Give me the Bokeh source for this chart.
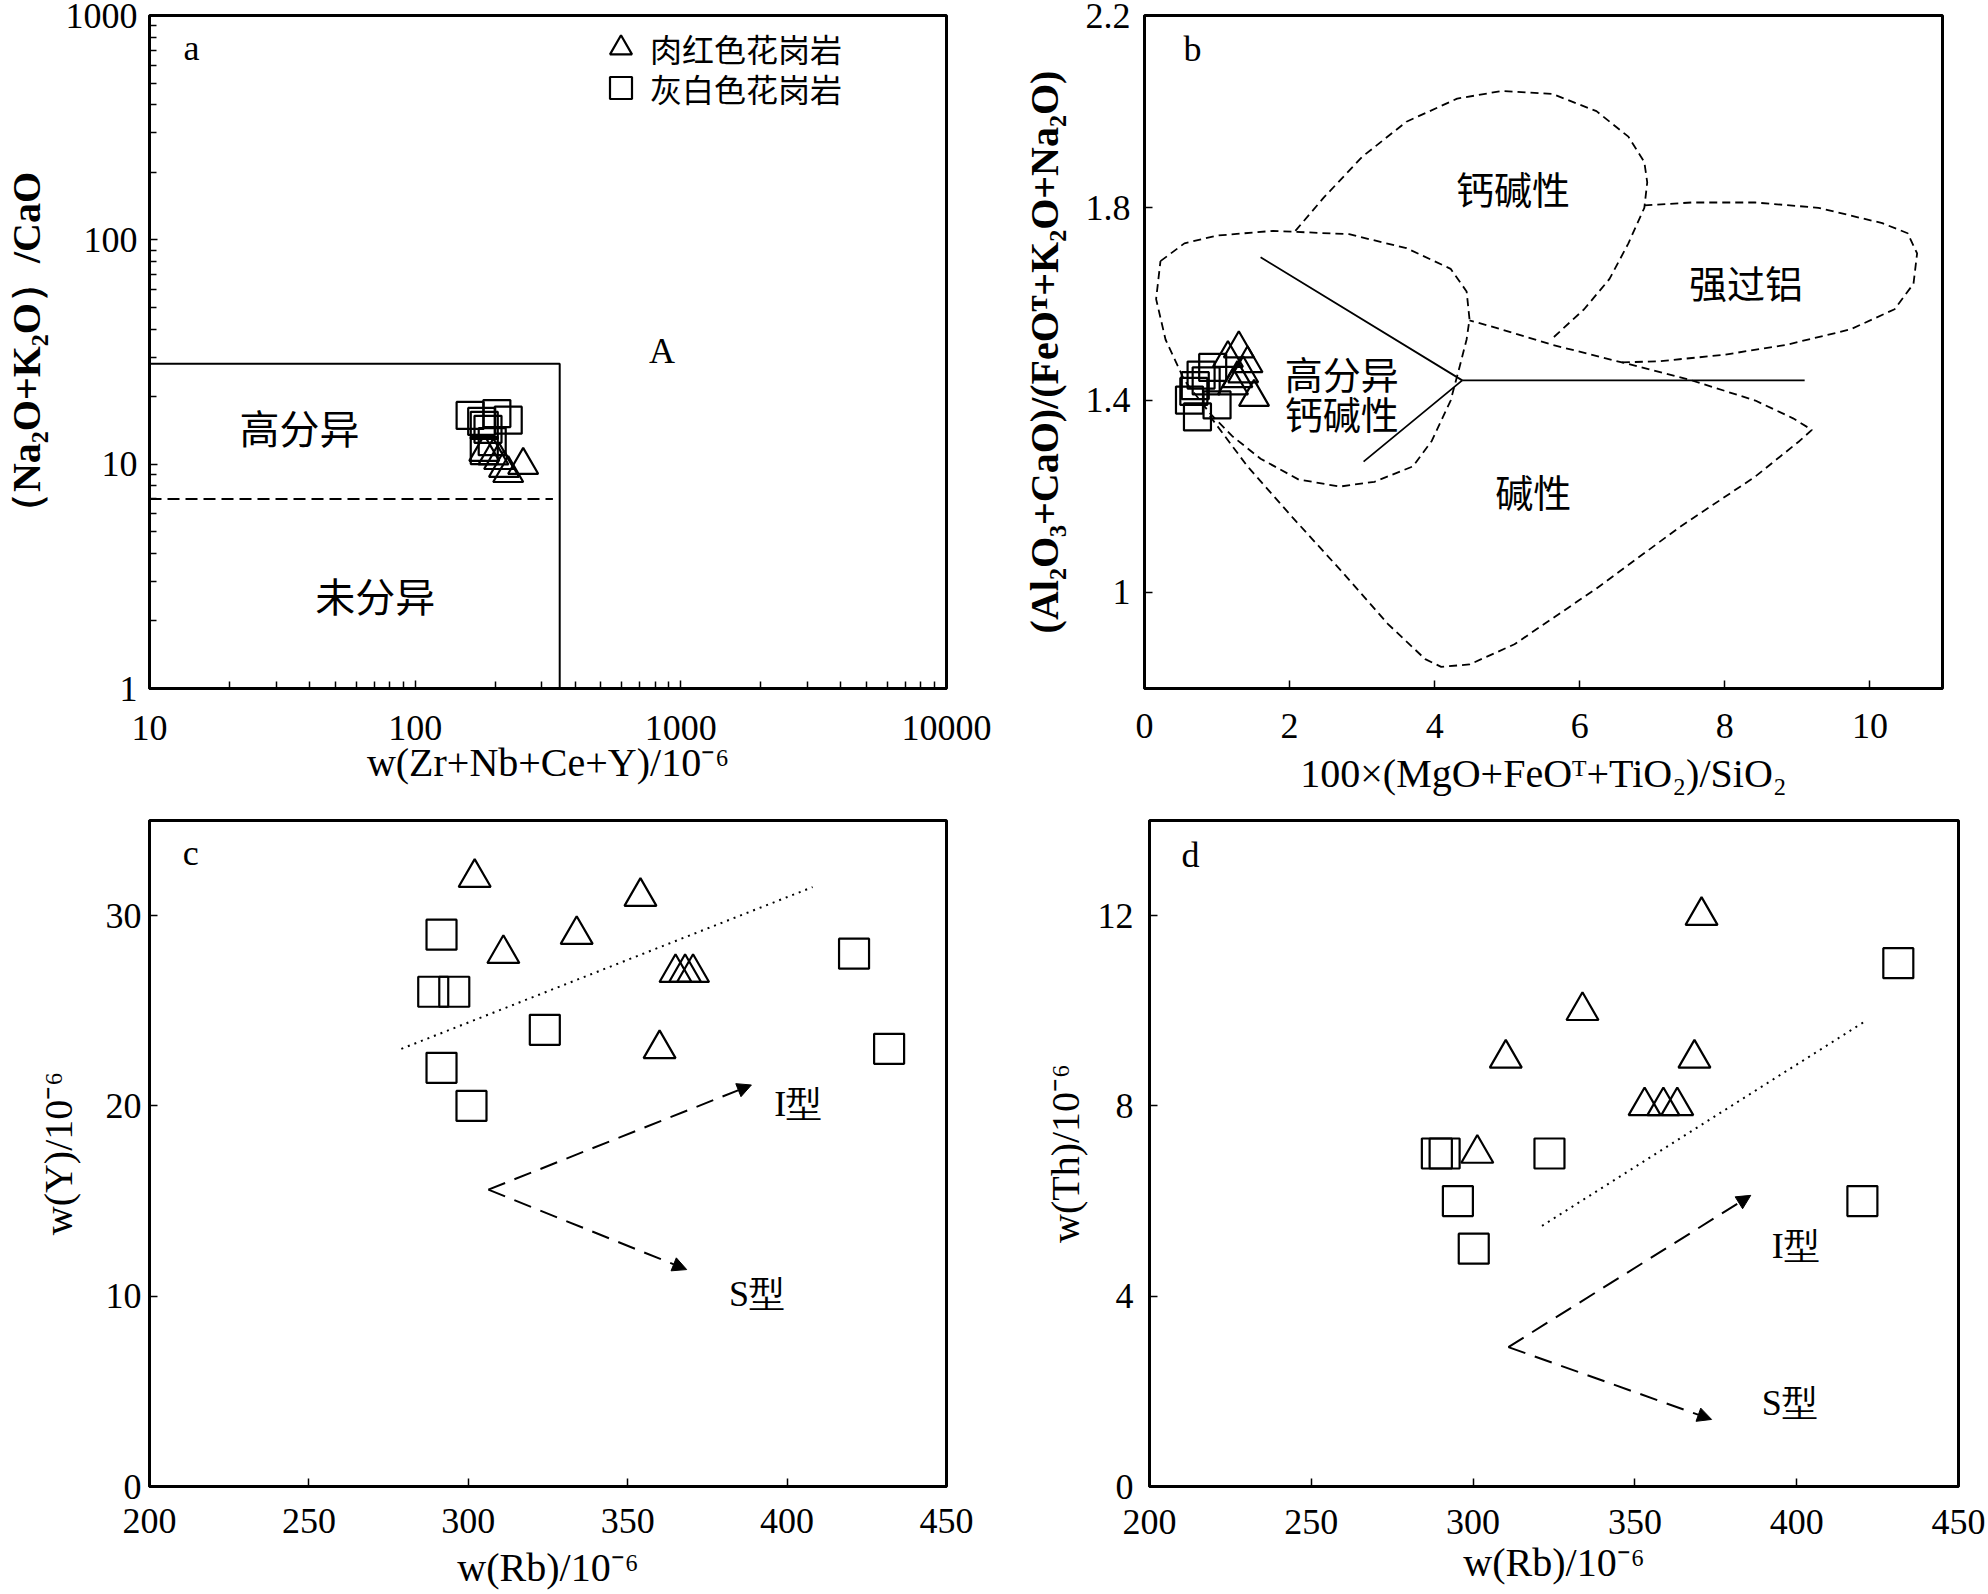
from bokeh.plotting import figure
from bokeh.layouts import column, row
from bokeh.models import (Range1d, FixedTicker, CustomJSTickFormatter, Label, Arrow,
                          NormalHead, Legend, LegendItem)
from bokeh.embed import file_html
from bokeh.resources import INLINE

SERIF = "Liberation Serif"
CJK = "Noto Sans CJK SC"

# ---------------- Panel a data ----------------
a_red_x = [182, 197, 207, 216, 224, 255]
a_red_y = [11.3, 10.9, 10.4, 9.6, 9.1, 9.9]
a_grey_x = [161, 203, 224, 182, 188, 178, 182, 195]
a_grey_y = [16.5, 16.8, 15.7, 14.9, 14.3, 15.5, 11.5, 12.6]
a_box_x = [10, 350, 350]
a_box_y = [28, 28, 1]
a_dash_x = [10, 330]
a_dash_y = [7, 7]
a_xticks = [10, 100, 1000, 10000]
a_yticks = [1, 10, 100, 1000]
a_xminor = [m * 10 ** e for e in (1, 2, 3) for m in range(2, 10)]
a_yminor = [m * 10 ** e for e in (0, 1, 2) for m in range(2, 10)]

# ---------------- Panel b data ----------------
b_red_x = [1.30, 1.15, 1.42, 1.28, 1.51, 1.22, 1.36]
b_red_y = [1.507, 1.487, 1.476, 1.445, 1.406, 1.430, 1.455]
b_grey_x = [0.68, 0.73, 0.78, 0.94, 1.00, 0.70, 0.85, 0.62]
b_grey_y = [1.418, 1.365, 1.452, 1.468, 1.390, 1.430, 1.440, 1.400]
# field boundaries (dashed)
b_calc_x = [2.08, 2.47, 3.00, 3.61, 4.31, 4.92, 5.62, 6.23, 6.67, 6.89, 6.93, 6.89, 6.67, 6.41, 6.06, 5.62]
b_calc_y = [1.752, 1.821, 1.906, 1.979, 2.027, 2.043, 2.037, 2.001, 1.948, 1.895, 1.853, 1.800, 1.726, 1.652, 1.589, 1.528]
b_pera_x = [6.89, 7.54, 8.42, 9.29, 10.17, 10.52, 10.65, 10.60, 10.34, 9.73, 8.85, 7.98, 7.11, 6.54]
b_pera_y = [1.805, 1.811, 1.811, 1.800, 1.768, 1.747, 1.705, 1.642, 1.589, 1.547, 1.515, 1.494, 1.481, 1.478]
b_frac_x = [0.22, 0.55, 0.99, 1.77, 2.82, 3.61, 4.22, 4.44, 4.48, 4.44, 4.35, 4.22, 3.96, 3.70, 3.17,
            2.69, 2.12, 1.60, 1.21, 0.90, 0.55, 0.29, 0.16, 0.22]
b_frac_y = [1.689, 1.726, 1.742, 1.752, 1.745, 1.716, 1.673, 1.626, 1.568, 1.526, 1.473, 1.399, 1.315,
            1.262, 1.230, 1.220, 1.235, 1.278, 1.325, 1.373, 1.441, 1.526, 1.610, 1.689]
b_alk_x = [0.90, 1.42, 2.04, 2.74, 3.35, 3.87, 4.09, 4.48, 5.10, 6.23, 7.37, 8.42, 9.03, 9.20, 8.94,
           8.42, 7.54, 6.67, 5.62, 4.92, 4.48]
b_alk_y = [1.367, 1.262, 1.156, 1.040, 0.935, 0.861, 0.845, 0.850, 0.892, 1.008, 1.135, 1.241, 1.315,
           1.338, 1.362, 1.399, 1.441, 1.475, 1.515, 1.547, 1.566]
# solid discrimination lines
b_solid1_x = [1.60, 4.38, 3.02]
b_solid1_y = [1.697, 1.441, 1.272]
b_solid2_x = [4.38, 9.10]
b_solid2_y = [1.441, 1.441]
b_xticks = [0, 2, 4, 6, 8, 10]
b_yticks = [1, 1.4, 1.8, 2.2]

# ---------------- Panel c data ----------------
c_red_x = [302, 354, 334, 311, 365, 368, 370.5, 360]
c_red_y = [32, 31, 29, 28, 27, 27, 27, 23]
c_grey_x = [291.6, 289, 295.6, 324, 291.6, 301, 421, 432]
c_grey_y = [29, 26, 26, 24, 22, 20, 28, 23]
c_dot_x = [279, 408]
c_dot_y = [23.0, 31.5]
c_arrow_start = (306.3, 15.6)
c_arrow_I = (388.8, 21.1)
c_arrow_S = (368.5, 11.4)
c_xticks = [200, 250, 300, 350, 400, 450]
c_yticks = [0, 10, 20, 30]

# ---------------- Panel d data ----------------
d_red_x = [370.6, 333.8, 310.1, 368.4, 353, 358.8, 363.1, 301.3]
d_red_y = [12, 10, 9, 9, 8, 8, 8, 7]
d_grey_x = [288.8, 291.2, 323.6, 295.3, 300.2, 431.4, 420.3]
d_grey_y = [7, 7, 7, 6, 5, 11, 6]
d_dot_x = [321.3, 421.6]
d_dot_y = [5.48, 9.80]
d_arrow_start = (310.9, 2.93)
d_arrow_I = (385.8, 6.12)
d_arrow_S = (373.7, 1.41)
d_xticks = [200, 250, 300, 350, 400, 450]
d_yticks = [0, 4, 8, 12]

FMT = "return String(tick)"


def make_fig(w, h, xr, yr, bl, br, bt, bb, xtype="linear", ytype="linear"):
    p = figure(width=w, height=h, x_range=xr, y_range=yr, x_axis_type=xtype, y_axis_type=ytype,
               output_backend="svg", toolbar_location=None,
               min_border_left=bl, min_border_right=br, min_border_top=bt, min_border_bottom=bb)
    p.grid.visible = False
    p.outline_line_color = "black"
    p.outline_line_width = 3
    p.background_fill_color = "white"
    p.border_fill_color = "white"
    return p


def style_axes(p, xticks, yticks, xlabel, ylabel, xminor=(), yminor=(),
               xls=14, xas=0, yls=20, yas=4, ybold=False):
    xa = p.xaxis[0]
    ya = p.yaxis[0]
    xa.ticker = FixedTicker(ticks=list(xticks), minor_ticks=list(xminor))
    ya.ticker = FixedTicker(ticks=list(yticks), minor_ticks=list(yminor))
    for ax in (xa, ya):
        ax.formatter = CustomJSTickFormatter(code=FMT)
        ax.axis_line_width = 3
        ax.axis_line_color = "black"
        ax.major_tick_in = 8
        ax.major_tick_out = 0
        ax.minor_tick_in = 7
        ax.minor_tick_out = 0
        ax.major_tick_line_width = 1.5
        ax.minor_tick_line_width = 1.5
        ax.major_tick_line_color = "black"
        ax.minor_tick_line_color = "black"
        ax.major_label_text_font = SERIF
        ax.major_label_text_font_size = "36px"
        ax.major_label_text_color = "black"
        ax.axis_label_text_font = SERIF
        ax.axis_label_text_font_size = "40px"
        ax.axis_label_text_color = "black"
        ax.axis_label_text_font_style = "normal"
    xa.axis_label = xlabel
    ya.axis_label = ylabel
    xa.major_label_standoff = xls
    xa.axis_label_standoff = xas
    ya.major_label_standoff = yls
    ya.axis_label_standoff = yas
    if ybold:
        ya.axis_label_text_font_style = "bold"


def add_text(p, x, y, text, font=SERIF, size="36px", align="center"):
    p.add_layout(Label(x=x, y=y, text=text, text_font=font, text_font_size=size,
                       text_align=align, text_baseline="middle", text_color="black"))


def pts(p, x, y, marker, size):
    return p.scatter(x=x, y=y, marker=marker, size=size, fill_color=None,
                     line_color="black", line_width=2.2)


def type_arrows(p, start, i_end, s_end):
    for end in (i_end, s_end):
        p.add_layout(Arrow(x_start=start[0], y_start=start[1], x_end=end[0], y_end=end[1],
                           line_color="black", line_width=2, line_dash="18 10",
                           end=NormalHead(size=14, fill_color="black", line_color="black",
                                          line_width=1)))


# ================= Panel a =================
pa = make_fig(1000, 802, Range1d(10, 10000), Range1d(1, 1000), 148, 54, 15, 114, "log", "log")
style_axes(pa, a_xticks, a_yticks, "w(Zr+Nb+Ce+Y)/10⁻⁶", "（Na₂O+K₂O）/CaO",
           a_xminor, a_yminor, xls=27, xas=-3, yls=12, yas=14, ybold=True)
pa.line(a_box_x, a_box_y, line_color="black", line_width=2)
pa.line(a_dash_x, a_dash_y, line_color="black", line_width=2, line_dash="12 6")
r_grey_a = pts(pa, a_grey_x, a_grey_y, "square", 27)
r_red_a = pts(pa, a_red_x, a_red_y, "triangle", 30)
add_text(pa, 14.4, 713, "a")
add_text(pa, 36.7, 14.6, "高分异", font=CJK, size="40px")
add_text(pa, 70.8, 2.62, "未分异", font=CJK, size="40px")
add_text(pa, 849, 32.1, "A", size="36px")
for loc, lab, rr in (((444, 613), "肉红色花岗岩", r_red_a), ((444, 573), "灰白色花岗岩", r_grey_a)):
    leg = Legend(items=[LegendItem(label=lab, renderers=[rr])], location=loc,
                 glyph_width=55, glyph_height=55, label_standoff=2, padding=0, margin=0,
                 spacing=0, border_line_alpha=0, background_fill_alpha=0,
                 label_text_font=CJK, label_text_font_size="32px", label_text_color="black")
    pa.add_layout(leg)

# ================= Panel b =================
pb = make_fig(988, 802, Range1d(0, 11), Range1d(0.8, 2.2), 144, 46, 15, 114)
style_axes(pb, b_xticks, b_yticks, "100×(MgO+FeOᵀ+TiO₂)/SiO₂", "(Al₂O₃+CaO)/(FeOᵀ+K₂O+Na₂O)",
           xls=25, xas=10, yls=14, yas=16, ybold=True)
for fx, fy in ((b_calc_x, b_calc_y), (b_pera_x, b_pera_y), (b_frac_x, b_frac_y), (b_alk_x, b_alk_y)):
    pb.line(fx, fy, line_color="black", line_width=1.8, line_dash="8 5")
pb.line(b_solid1_x, b_solid1_y, line_color="black", line_width=1.8)
pb.line(b_solid2_x, b_solid2_y, line_color="black", line_width=1.8)
pts(pb, b_grey_x, b_grey_y, "square", 27)
pts(pb, b_red_x, b_red_y, "triangle", 30)
add_text(pb, 0.66, 2.13, "b")
add_text(pb, 5.08, 1.842, "钙碱性", font=CJK, size="38px")
add_text(pb, 8.29, 1.647, "强过铝", font=CJK, size="38px")
add_text(pb, 2.72, 1.458, "高分异", font=CJK, size="38px")
add_text(pb, 2.72, 1.375, "钙碱性", font=CJK, size="38px")
add_text(pb, 5.36, 1.211, "碱性", font=CJK, size="38px")

# ================= Panel c =================
pc = make_fig(1000, 792, Range1d(200, 450), Range1d(0, 35), 149, 54, 10, 108)
style_axes(pc, c_xticks, c_yticks, "w(Rb)/10⁻⁶", "w(Y)/10⁻⁶", xls=22, xas=9, yls=8, yas=22)
pc.line(c_dot_x, c_dot_y, line_color="black", line_width=2, line_dash="2 5")
type_arrows(pc, c_arrow_start, c_arrow_I, c_arrow_S)
pts(pc, c_grey_x, c_grey_y, "square", 30)
pts(pc, c_red_x, c_red_y, "triangle", 32)
add_text(pc, 212.9, 33.3, "c")
add_text(pc, 396, 20.1, "I型", align="left")
add_text(pc, 381.8, 10.1, "S型", align="left")

# ================= Panel d =================
pd_ = make_fig(988, 792, Range1d(200, 450), Range1d(0, 14), 149, 30, 18, 102)
style_axes(pd_, d_xticks, d_yticks, "w(Rb)/10⁻⁶", "w(Th)/10⁻⁶", xls=23, xas=3, yls=16, yas=7)
pd_.line(d_dot_x, d_dot_y, line_color="black", line_width=2, line_dash="2 5")
type_arrows(pd_, d_arrow_start, d_arrow_I, d_arrow_S)
pts(pd_, d_grey_x, d_grey_y, "square", 30)
pts(pd_, d_red_x, d_red_y, "triangle", 32)
add_text(pd_, 212.7, 13.28, "d")
add_text(pd_, 392.3, 5.06, "I型", align="left")
add_text(pd_, 389.2, 1.76, "S型", align="left")

layout = column(row(pa, pb), row(pc, pd_))
open("out.html", "w").write(file_html(layout, INLINE))
